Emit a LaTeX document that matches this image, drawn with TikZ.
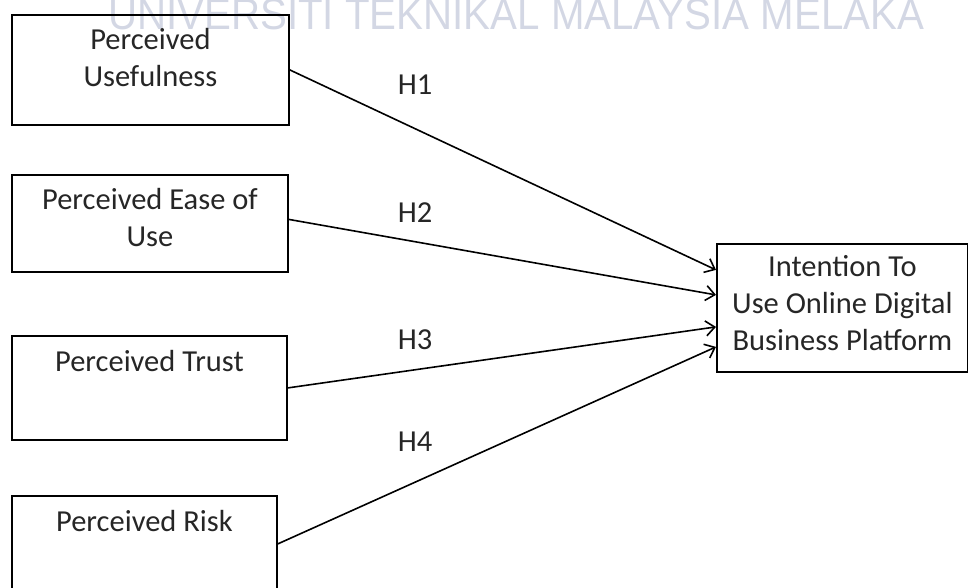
\documentclass[tikz,border=0pt]{standalone}
\usepackage{fontspec}
\setmainfont{Carlito}
\newfontfamily\wmfont{Liberation Sans}
\usetikzlibrary{arrows.meta}
\definecolor{wmgray}{HTML}{D3D7E4}
\definecolor{txtgray}{HTML}{262626}
\tikzset{
	factor/.style={draw, line width=1.8pt, anchor=north west, inner sep=0pt},
	boxtext/.style={anchor=base, align=center, text=txtgray, font=\fontsize{30.5}{37}\selectfont},
	hyp/.style={text=txtgray, font=\fontsize{30.5}{37}\selectfont},
	link/.style={line width=1.6pt, -{Straight Barb[length=9pt,width=15pt]}}
}
\begin{document}
\begin{tikzpicture}[x=1pt,y=-1pt]
		\useasboundingbox (0,0) rectangle (968,587);
		\node[anchor=base west, inner sep=0pt, text=wmgray, xscale=0.915, font=\wmfont\fontsize{44}{44}\selectfont] (wm) at (108,29) {UNIVERSITI TEKNIKAL MALAYSIA MELAKA};
		% factors (base anchor sits on the last line)
		\node[factor, minimum width=277, minimum height=110] (pu) at (11,14) {};
		\node[boxtext] (put) at ([yshift=-72pt]pu.north) {Perceived\\Usefulness};
		\node[factor, minimum width=276, minimum height=97] (peou) at (11,174) {};
		\node[boxtext] (peout) at ([yshift=-72pt]peou.north) {Perceived Ease of\\Use};
		\node[factor, minimum width=275, minimum height=104] (pt) at (11,335) {};
		\node[boxtext] (ptt) at ([yshift=-36pt]pt.north) {Perceived Trust};
		\node[factor, minimum width=265, minimum height=96] (pr) at (11,495) {};
		\node[boxtext] (prt) at ([yshift=-36pt]pr.north) {Perceived Risk};
		% outcome
		\node[factor, minimum width=251, minimum height=128] (itu) at (716,243) {};
		\node[boxtext] (itut) at ([yshift=-107pt]itu.north) {Intention To\\Use Online Digital\\Business Platform};
		% hypotheses
		\draw[link] (pu.east) -- ([yshift=38pt]itu.west);
		\draw[link] ([yshift=4pt]peou.east) -- ([yshift=13pt]itu.west);
		\draw[link] (pt.east) -- ([yshift=-19pt]itu.west);
		\draw[link] (pr.east) -- ([yshift=-39pt]itu.west);
		\node[hyp] (h1) at (415,85) {H1};
		\node[hyp] (h2) at (415,213) {H2};
		\node[hyp] (h3) at (415,340) {H3};
		\node[hyp] (h4) at (415,442) {H4};
\end{tikzpicture}
\end{document}
